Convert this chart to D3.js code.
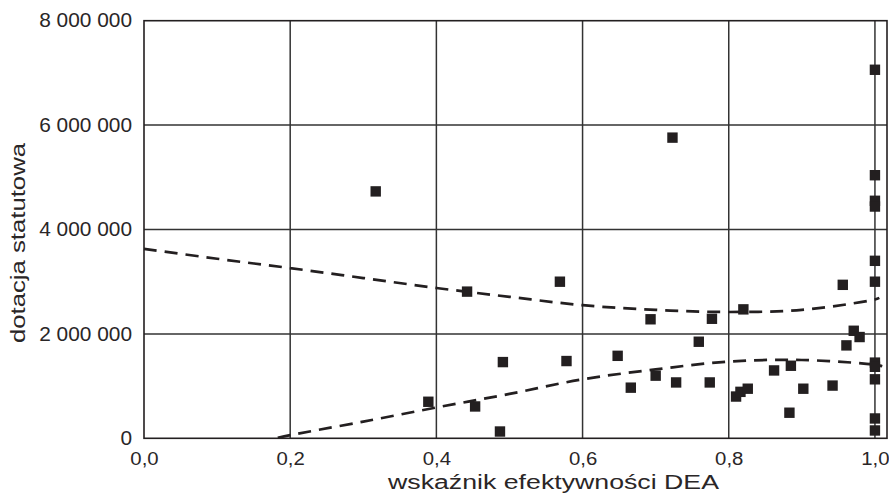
<!DOCTYPE html>
<html>
<head>
<meta charset="utf-8">
<script src="https://cdn.jsdelivr.net/npm/d3@7"></script>
<style>
  html, body { margin: 0; padding: 0; background: #fff; }
  svg { display: block; font-family: "Liberation Sans", Arial, sans-serif; }
</style>
</head>
<body>
<svg id="chart" width="889" height="502"></svg>
<script>
// ---- data ----
const effX = [0.317, 0.389, 0.442, 0.453, 0.487, 0.491, 0.569, 0.578, 0.648, 0.666,
              0.693, 0.700, 0.723, 0.728, 0.759, 0.774, 0.777, 0.810, 0.816, 0.820,
              0.826, 0.862, 0.883, 0.885, 0.902, 0.942, 0.956, 0.961, 0.971, 0.979,
              1.0, 1.0, 1.0, 1.0, 1.0, 1.0, 1.0, 1.0, 1.0, 1.0, 1.0];
const dotacja = [4730000, 700000, 2810000, 610000, 130000, 1460000, 3000000, 1480000, 1580000, 970000,
                 2280000, 1200000, 5760000, 1070000, 1850000, 1070000, 2290000, 800000, 890000, 2470000,
                 950000, 1300000, 490000, 1390000, 950000, 1010000, 2940000, 1780000, 2060000, 1940000,
                 7060000, 5040000, 4550000, 4440000, 3400000, 3000000, 1450000, 1370000, 1130000, 380000, 150000];

// dashed band curves
const upperX = [0.0, 0.1, 0.2, 0.3, 0.4, 0.5, 0.6, 0.7, 0.8, 0.9, 1.0, 1.006];
const upperY = [3630000, 3440000, 3260000, 3070000, 2880000, 2710000, 2550000, 2460000, 2420000, 2460000, 2660000, 2690000];
const lowerX = [0.183, 0.2, 0.3, 0.4, 0.5, 0.6, 0.7, 0.8, 0.9, 1.0, 1.01];
const lowerY = [10000, 60000, 320000, 590000, 850000, 1130000, 1320000, 1470000, 1500000, 1410000, 1380000];

const xTicks = [0, 0.2, 0.4, 0.6, 0.8, 1.0];
const xTickLabels = ["0,0", "0,2", "0,4", "0,6", "0,8", "1,0"];
const yTicks = [0, 2000000, 4000000, 6000000, 8000000];
const yTickLabels = ["0", "2 000 000", "4 000 000", "6 000 000", "8 000 000"];

const xTitle = "wskaźnik efektywności DEA";
const yTitle = "dotacja statutowa";

// ---- layout ----
const svg = d3.select("#chart");
const pLeft = 144, pRight = 887, pTop = 20.7, pBottom = 438.3;
const ink = "#231f20";
const textInk = "#2a2627";

const x = d3.scaleLinear().domain([0, 1.0165]).range([pLeft, pRight]);
const y = d3.scaleLinear().domain([0, 8000000]).range([pBottom, pTop]);

// gridlines
const grid = svg.append("g");
grid.selectAll("line.v").data(xTicks.slice(1)).join("line").attr("class", "v")
  .attr("x1", d => x(d)).attr("x2", d => x(d))
  .attr("y1", pTop).attr("y2", pBottom)
  .attr("stroke", "#333").attr("stroke-width", 1.5);
grid.selectAll("line.h").data(yTicks.slice(1, -1)).join("line").attr("class", "h")
  .attr("x1", pLeft).attr("x2", pRight)
  .attr("y1", d => y(d)).attr("y2", d => y(d))
  .attr("stroke", "#333").attr("stroke-width", 1.5);

// frame
svg.append("rect")
  .attr("x", pLeft).attr("y", pTop)
  .attr("width", pRight - pLeft).attr("height", pBottom - pTop)
  .attr("fill", "none").attr("stroke", ink).attr("stroke-width", 1.6);

// axes (labels only)
const xAxis = d3.axisBottom(x).tickValues(xTicks)
  .tickFormat((d, i) => xTickLabels[i]).tickSize(0).tickPadding(14);
const gx = svg.append("g").attr("transform", `translate(0,${pBottom})`).call(xAxis);
gx.select(".domain").remove();
gx.selectAll("text").attr("font-size", 18).attr("fill", textInk)
  .attr("font-family", "Liberation Sans, Arial, sans-serif");

const yAxis = d3.axisLeft(y).tickValues(yTicks)
  .tickFormat((d, i) => yTickLabels[i]).tickSize(0).tickPadding(12);
const gy = svg.append("g").attr("transform", `translate(${pLeft},0)`).call(yAxis);
gy.select(".domain").remove();
gy.selectAll("text").attr("font-size", 19.5).attr("fill", textInk)
  .attr("font-family", "Liberation Sans, Arial, sans-serif");

// widen glyphs slightly to match the reference type
function stretch(sel, f) {
  sel.each(function() {
    const w = this.getComputedTextLength();
    d3.select(this).attr("textLength", w * f).attr("lengthAdjust", "spacingAndGlyphs");
  });
}
stretch(gx.selectAll("text"), 1.13);
stretch(gy.selectAll("text"), 1.07);

// titles
svg.append("text")
  .attr("x", 553.5).attr("y", 489)
  .attr("text-anchor", "middle").attr("font-size", 20).attr("fill", textInk)
  .text(xTitle)
  .attr("textLength", 331).attr("lengthAdjust", "spacingAndGlyphs");

svg.append("text")
  .attr("transform", "translate(25,243) rotate(-90)")
  .attr("text-anchor", "middle").attr("font-size", 20).attr("fill", textInk)
  .text(yTitle)
  .attr("textLength", 200).attr("lengthAdjust", "spacingAndGlyphs");

// dashed curves
const mk = d3.line().x(d => x(d[0])).y(d => y(d[1])).curve(d3.curveCatmullRom.alpha(0.5));
svg.append("path")
  .attr("d", mk(upperX.map((v, i) => [v, upperY[i]])))
  .attr("fill", "none").attr("stroke", ink).attr("stroke-width", 2.7)
  .attr("stroke-dasharray", "13,8");
svg.append("path")
  .attr("d", mk(lowerX.map((v, i) => [v, lowerY[i]])))
  .attr("fill", "none").attr("stroke", ink).attr("stroke-width", 2.7)
  .attr("stroke-dasharray", "13,8");

// points
const s = 10.4;
svg.append("g").selectAll("rect").data(effX.map((v, i) => [v, dotacja[i]])).join("rect")
  .attr("x", d => x(d[0]) - s / 2).attr("y", d => y(d[1]) - s / 2)
  .attr("width", s).attr("height", s).attr("fill", ink);
</script>
</body>
</html>
